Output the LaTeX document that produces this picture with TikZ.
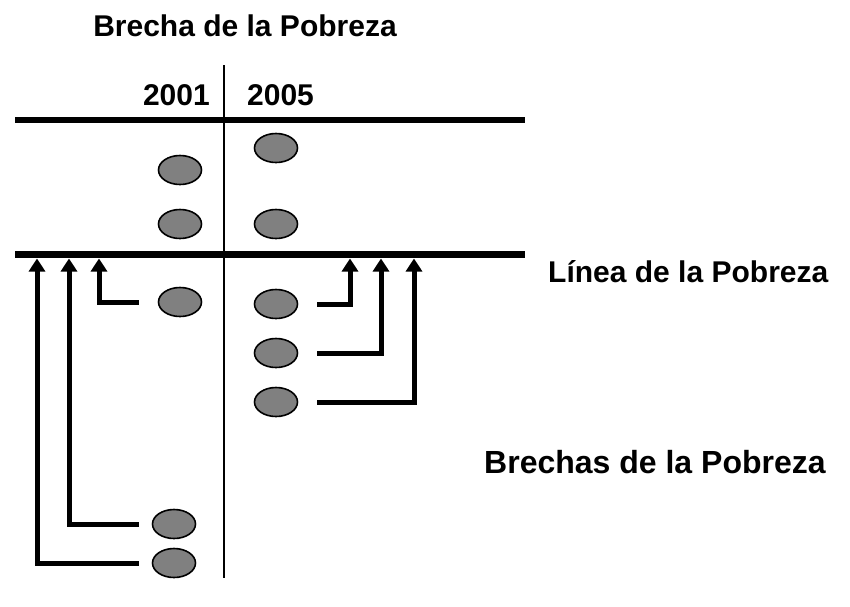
\documentclass[tikz,border=0pt]{standalone}
\usepackage{fontspec}
\setmainfont{Liberation Sans}
\usetikzlibrary{shapes.geometric,arrows.meta,calc}

\begin{document}
\begin{tikzpicture}[x=1pt,y=-1pt,
		punto/.style={draw,ellipse,fill={rgb,255:red,128;green,128;blue,128},line width=1.6pt,minimum width=43pt,minimum height=29pt,inner sep=0pt},
		flecha/.style={line width=5pt,-{Triangle[width=16pt,length=13pt]}},
		rotulo/.style={inner sep=0pt,font=\bfseries\fontsize{30}{36}\selectfont}]
		\useasboundingbox (0,0) rectangle (850,606);
		% titulos y ejes
		\node[rotulo] (titulo) at (245,26) {Brecha de la Pobreza};
		\node[rotulo,anchor=east] (a2001) at (210,95) {2001};
		\node[rotulo,anchor=west] (a2005) at (247,95) {2005};
		\draw[line width=2pt] (224,65) -- (224,578);
		\draw[line width=6.5pt] (15,120) -- (525,120);
		\draw[line width=7.5pt] (15,254.5) -- (525,254.5);
		\node[rotulo,anchor=west] (linea) at (548,272) {L\'inea de la Pobreza};
		\node[rotulo,anchor=west,font=\bfseries\fontsize{32}{38}\selectfont] (brechas) at (484,462) {Brechas de la Pobreza};
		
		% hogares 2001
		\node[punto] (i1) at (180,170) {};
		\node[punto] (i2) at (180,224) {};
		\node[punto] (i3) at (180,302) {};
		\node[punto] (i4) at (174,524) {};
		\node[punto] (i5) at (174,563) {};
		% hogares 2005
		\node[punto] (d1) at (276,148) {};
		\node[punto] (d2) at (276,224) {};
		\node[punto] (d3) at (276,304) {};
		\node[punto] (d4) at (276,353) {};
		\node[punto] (d5) at (276,402) {};
		
		% puntos sobre la linea
		\foreach \n/\x in {p1/37,p2/69,p3/99,q1/350,q2/381,q3/414}
		{\coordinate (\n) at (\x,258.5);
		}
		
		% brechas
		\draw[flecha] ($(i3.west)+(-19,0)$) -| (p3);
		\draw[flecha] ($(i4.west)+(-13,0)$) -| (p2);
		\draw[flecha] ($(i5.west)+(-13,0)$) -| (p1);
		\draw[flecha] ($(d3.east)+(19,0)$) -| (q1);
		\draw[flecha] ($(d4.east)+(19,0)$) -| (q2);
		\draw[flecha] ($(d5.east)+(19,0)$) -| (q3);
\end{tikzpicture}
\end{document}
